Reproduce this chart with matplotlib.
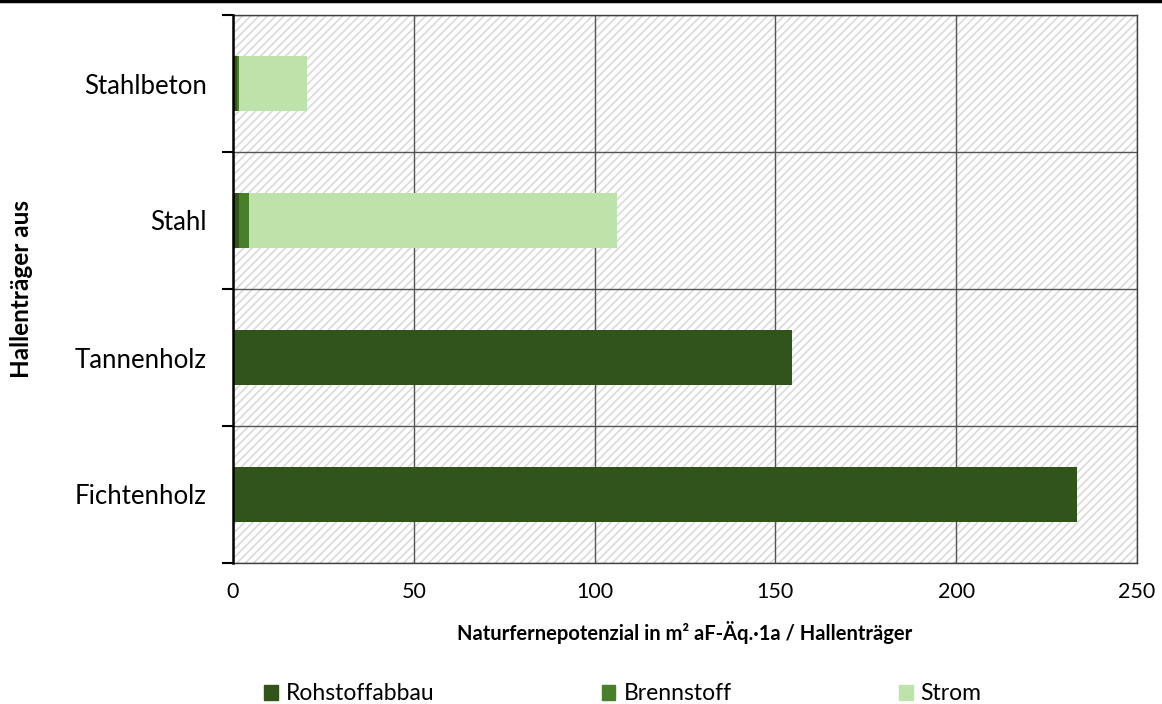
import matplotlib
matplotlib.use("Agg")
import matplotlib.pyplot as plt
import numpy as np
from matplotlib.patches import Rectangle
from matplotlib.lines import Line2D

categories = ["Fichtenholz", "Tannenholz", "Stahl", "Stahlbeton"]
rohstoffabbau = [233.4, 154.6, 1.6, 1.1]
brennstoff = [0.0, 0.0, 2.8, 0.5]
strom = [0.0, 0.0, 101.8, 19.0]
series_names = ["Rohstoffabbau", "Brennstoff", "Strom"]
colors = ["#30541a", "#4a7f2a", "#bde3ab"]
xticks = [0, 50, 100, 150, 200, 250]

plt.rcParams['font.family'] = ['Lato', 'DejaVu Sans']
plt.rcParams['hatch.linewidth'] = 1.2

fig = plt.figure(figsize=(11.62, 7.04), dpi=100)
ax = fig.add_axes([233/1162, 1-563/704, (1137-233)/1162, (563-15)/704])

ax.add_patch(Rectangle((0, 0), 1, 1, transform=ax.transAxes, facecolor='white',
                       edgecolor='#dadada', linewidth=0, hatch='////', zorder=0))

y = np.arange(len(categories))
left = np.zeros(len(categories))
for vals, name, c in zip([rohstoffabbau, brennstoff, strom], series_names, colors):
    ax.barh(y, vals, left=left, height=0.4, color=c, label=name, zorder=3)
    left = left + np.array(vals)

ax.set_xlim(0, 250)
ax.set_ylim(-0.5, len(categories) - 0.5)
ax.set_xticks(xticks)
ax.set_yticks(y)
ax.set_yticklabels(categories, fontsize=18.5)
ax.tick_params(axis='y', length=0, pad=19)
ax.tick_params(axis='x', length=0, pad=14, labelsize=15.5)
ax.set_yticks(np.arange(-0.5, len(categories), 1), minor=True)
ax.tick_params(axis='y', which='minor', length=8, width=1.5, color='black')
ax.grid(axis='x', color='#555555', linewidth=1.0, zorder=1)
ax.grid(axis='y', which='minor', color='#555555', linewidth=1.0, zorder=1)
ax.set_axisbelow(True)

for s in ['top', 'right', 'bottom']:
    ax.spines[s].set_color('#404040')
    ax.spines[s].set_linewidth(1.0)
ax.spines['left'].set_color('black')
ax.spines['left'].set_linewidth(1.8)
ax.spines['left'].set_zorder(5)

ax.set_xlabel("Naturfernepotenzial in m² aF-Äq.·1a / Hallenträger", fontsize=14.5,
              fontweight='bold')
ax.xaxis.set_label_coords(0.5, -(632-563)/548, transform=ax.transAxes)
ax.xaxis.label.set_va('center')
ax.set_ylabel("Hallenträger aus", fontsize=17.5, fontweight='bold')
ax.yaxis.set_label_coords((22-233)/904, 0.5, transform=ax.transAxes)
ax.yaxis.label.set_va('center')

handles = [Rectangle((0, 0), 1, 1, color=c) for c in colors]
fig.legend(handles, series_names, loc='center', bbox_to_anchor=(0.536, 1-694/704),
           ncol=3, frameon=False, fontsize=16.5, columnspacing=7.3,
           handlelength=0.6, handleheight=0.6, handletextpad=0.35,
           borderpad=0, borderaxespad=0)

fig.add_artist(Line2D([0, 1], [1 - 1/704, 1 - 1/704], transform=fig.transFigure,
                      color='black', linewidth=2.5))

fig.savefig("out.png", dpi=100)
